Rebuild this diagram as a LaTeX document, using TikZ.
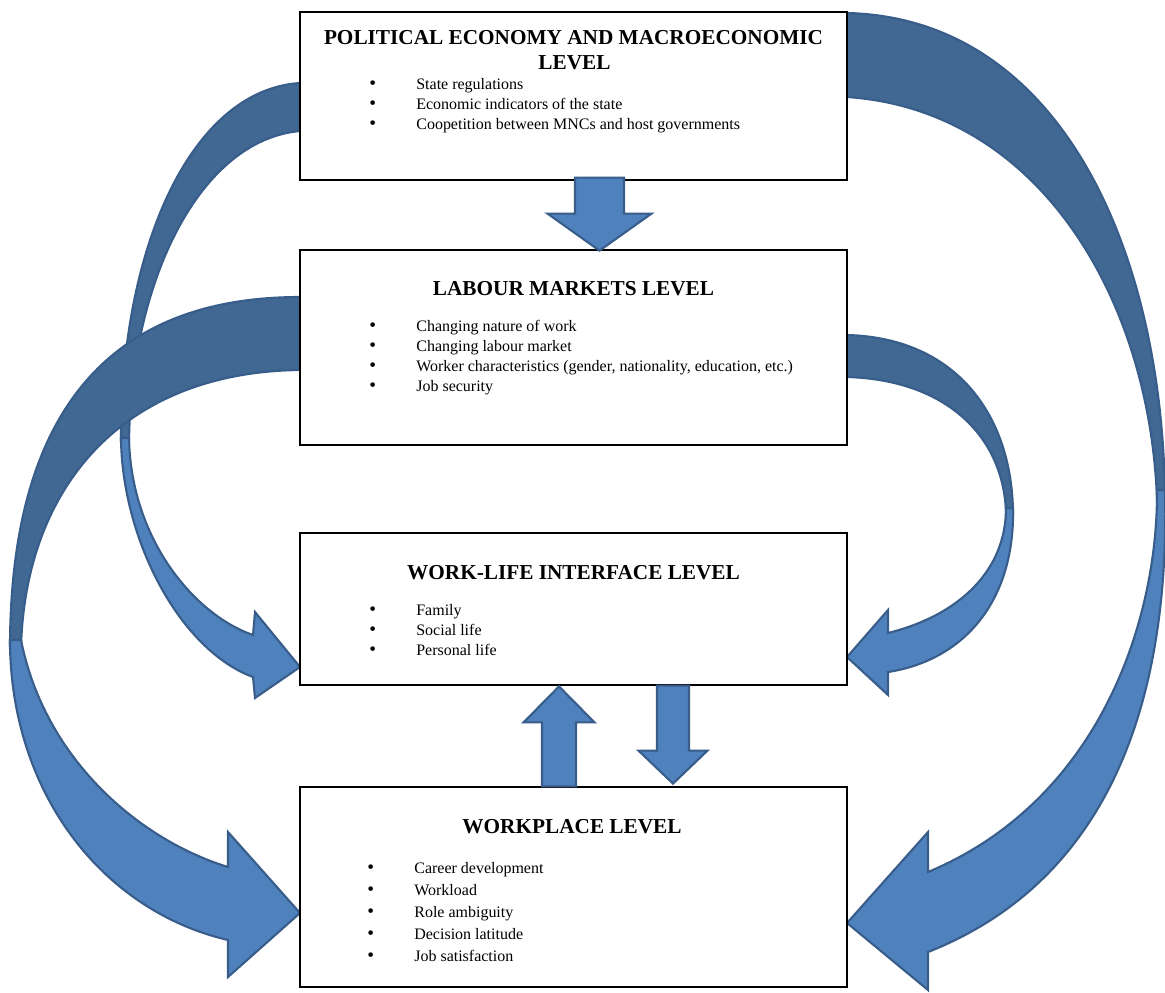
\documentclass[tikz,border=0pt]{standalone}
\usepackage{fontspec}
\setmainfont{Liberation Serif}
\usetikzlibrary{calc}

\definecolor{arrowfront}{HTML}{4F81BD}
\definecolor{arrowback}{HTML}{406893}
\definecolor{arrowline}{HTML}{385D8A}

\tikzset{
  levelbox/.style={draw=black,line width=0.7pt,fill=white,minimum width=10.94cm,inner sep=0pt},
  leveltitle/.style={anchor=base,inner sep=0pt,font=\fontsize{12.1}{14}\selectfont\bfseries},
  levelitem/.style={anchor=base west,inner sep=0pt,font=\fontsize{9.1}{11}\selectfont,
    execute at begin node={\makebox[0.94cm][l]{\fontsize{11}{11}\selectfont\textbullet}}},
  frontarrow/.style={fill=arrowfront,draw=arrowline,line width=1.2pt},
  backarrow/.style={fill=arrowback,draw=arrowline,line width=1.2pt}
}

% block arrow: #1 start (centre of the flat end), #2 half shaft, #3 half head,
% #4 shaft length, #5 full length (negative lengths point upwards)
\newcommand{\blockarrow}[5]{%
  \draw[frontarrow] (#1) ++(-#2,0) -- ++(0,#4) -- ++({#2-#3},0) -- ++(#3,{#5-#4})
    -- ++(#3,{#4-#5}) -- ++({#2-#3},0) -- ++(0,-#4) -- cycle;}

\begin{document}
\begin{tikzpicture}[x=0.02cm,y=-0.02cm]
\useasboundingbox (0,0) rectangle (1165,992);

% curved arrows, left side
\draw[backarrow] (300,83) .. controls (190,90) and (120,250) .. (121,442)
  -- (129,442) .. controls (131,280) and (200,140) .. (300,131) -- cycle;
\draw[frontarrow] (121,438) .. controls (122,540) and (180,650) .. (253,677)
  -- (255,698) -- (300,667) -- (255,612) -- (253,635)
  .. controls (195,615) and (131,540) .. (129,438) -- cycle;

\draw[backarrow] (300,297) .. controls (80,297) and (10,450) .. (10,648)
  -- (21,648) .. controls (25,490) and (120,372) .. (300,370) -- cycle;
\draw[frontarrow] (10,640) .. controls (10,790) and (100,910) .. (228,940)
  -- (228,977) -- (300,913) -- (228,832) -- (228,867)
  .. controls (140,840) and (45,760) .. (21,640) -- cycle;

% curved arrows, right side
\draw[backarrow] (847,335) .. controls (960,338) and (1013,420) .. (1013,515)
  -- (1006,515) .. controls (1005,440) and (950,380) .. (847,377) -- cycle;
\draw[frontarrow] (1013,508) .. controls (1015,600) and (965,660) .. (888,672)
  -- (888,695) -- (847,657) -- (888,610) -- (888,633)
  .. controls (960,615) and (1006,570) .. (1006,508) -- cycle;

\draw[backarrow] (847,13) .. controls (1060,18) and (1163,250) .. (1165,500)
  -- (1157,500) .. controls (1150,300) and (1040,110) .. (847,97) -- cycle;
\draw[frontarrow] (1165,490) .. controls (1170,700) and (1110,880) .. (928,952)
  -- (928,990) -- (847,923) -- (928,832) -- (928,872)
  .. controls (1100,800) and (1158,620) .. (1157,490) -- cycle;

% the four levels
\node[levelbox,minimum height=3.36cm] (pol) at (573.5,96) {};
\node[levelbox,minimum height=3.9cm] (lab) at (573.5,347.5) {};
\node[levelbox,minimum height=3.04cm] (wli) at (573.5,609) {};
\node[levelbox,minimum height=4cm] (wpl) at (573.5,887) {};

\node[leveltitle] (polT) at (573.5,44) {POLITICAL ECONOMY AND MACROECONOMIC};
\node[leveltitle] (polT2) at (574.5,69) {LEVEL};
\node[leveltitle] (labT) at (573.5,295) {LABOUR MARKETS LEVEL};
\node[leveltitle] (wliT) at (573.5,579) {WORK-LIFE INTERFACE LEVEL};
\node[leveltitle] (wplT) at (572,833) {WORKPLACE LEVEL};

\foreach \t [count=\i] in {State regulations,Economic indicators of the state,
    Coopetition between MNCs and host governments}
  \node[levelitem] (pol\i) at (369,{69+20*\i}) {\t};
\foreach \t [count=\i] in {Changing nature of work,Changing labour market,
    {Worker characteristics (gender, nationality, education, etc.)},Job security}
  \node[levelitem] (lab\i) at (369,{311+20*\i}) {\t};
\foreach \t [count=\i] in {Family,Social life,Personal life}
  \node[levelitem] (wli\i) at (369,{595+20*\i}) {\t};
\foreach \t [count=\i] in {Career development,Workload,Role ambiguity,
    Decision latitude,Job satisfaction}
  \node[levelitem] (wpl\i) at (367,{851+22*\i}) {\t};

% straight block arrows between the levels
\blockarrow{$(pol.south)+(26,-3)$}{24.5}{52}{36}{73}
\blockarrow{$(wpl.north)+(-14.5,0)$}{17}{35.5}{-64}{-100}
\blockarrow{$(wli.south)+(99.5,0)$}{16}{34.5}{65}{98}
\end{tikzpicture}
\end{document}
